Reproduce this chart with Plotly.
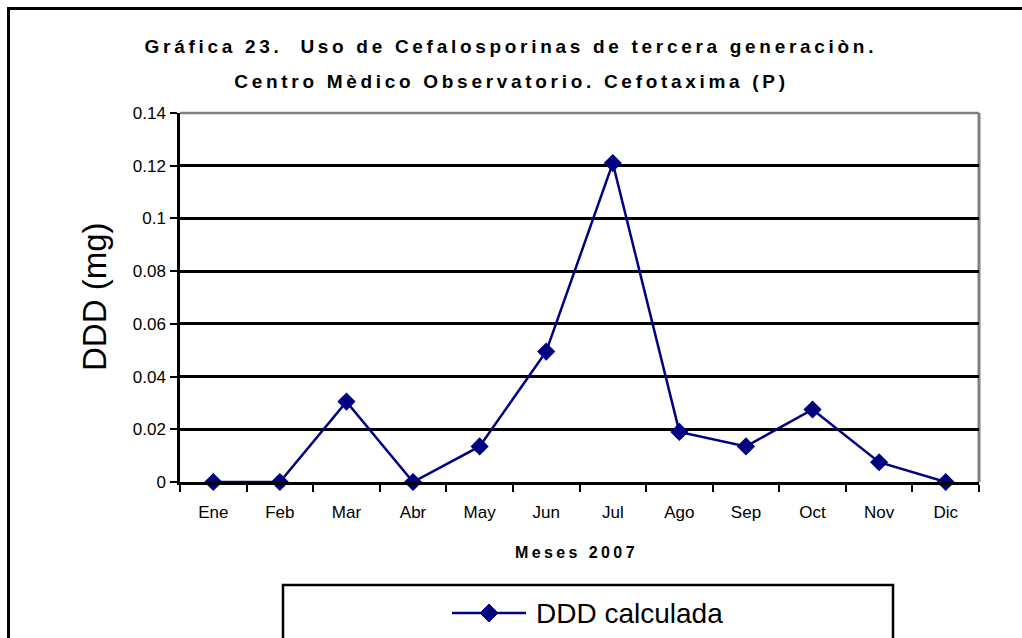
import plotly.graph_objects as go

months = ["Ene", "Feb", "Mar", "Abr", "May", "Jun", "Jul", "Ago", "Sep", "Oct", "Nov", "Dic"]
ddd = [0, 0, 0.0305, 0, 0.0135, 0.0495, 0.121, 0.019, 0.0135, 0.0275, 0.0075, 0]
series_name = "DDD calculada"
title_1 = "Gráfica 23.  Uso de Cefalosporinas de tercera generaciòn."
title_2 = "Centro Mèdico Observatorio. Cefotaxima (P)"
x_title = "Meses 2007"
y_title = "DDD (mg)"

W, H = 1022, 638
L, R, T, B = 180, 43, 113, 156
PW, PH = W - L - R, H - T - B
NAVY = "#000080"
FONT = "Arial, Liberation Sans, sans-serif"


def px(x):
    return (x - L) / PW


def py(y):
    return (H - B - y) / PH


fig = go.Figure()
fig.add_trace(go.Scatter(
    x=months, y=ddd, mode="lines+markers", name=series_name,
    line=dict(color=NAVY, width=2.5),
    marker=dict(symbol="diamond", size=14, color=NAVY),
    showlegend=False, cliponaxis=False,
))

shapes = []
# outer frame (left and top)
shapes.append(dict(type="line", xref="paper", yref="paper", x0=px(8.5), x1=px(8.5), y0=py(8), y1=py(640),
                   line=dict(color="black", width=3)))
shapes.append(dict(type="line", xref="paper", yref="paper", x0=px(7), x1=px(1024), y0=py(8.5), y1=py(8.5),
                   line=dict(color="black", width=3)))
# plot-area border top & right (grey)
shapes.append(dict(type="line", xref="paper", yref="paper", x0=0, x1=1, y0=1, y1=1,
                   line=dict(color="#808080", width=2.5), layer="above"))
shapes.append(dict(type="line", xref="paper", yref="paper", x0=1, x1=1, y0=0, y1=1,
                   line=dict(color="#808080", width=3), layer="below"))
# legend box
shapes.append(dict(type="rect", xref="paper", yref="paper", x0=px(283), x1=px(893), y0=py(645), y1=py(585),
                   line=dict(color="black", width=2.5)))
# legend symbol
ly = 613
shapes.append(dict(type="line", xref="paper", yref="paper", x0=px(452), x1=px(526), y0=py(ly), y1=py(ly),
                   line=dict(color=NAVY, width=2.5)))
cx, d = 489, 9
shapes.append(dict(type="path", xref="paper", yref="paper",
                   path="M {} {} L {} {} L {} {} L {} {} Z".format(px(cx - d), py(ly), px(cx), py(ly - d),
                                                                px(cx + d), py(ly), px(cx), py(ly + d)),
                   fillcolor=NAVY, line=dict(color=NAVY, width=1)))

annotations = [
    dict(text="<b>" + title_1 + "</b>", xref="paper", yref="paper", x=px(511), y=py(47),
         xanchor="center", yanchor="middle", showarrow=False, font=dict(family=FONT, size=19, color="black")),
    dict(text="<b>" + title_2 + "</b>", xref="paper", yref="paper", x=px(511), y=py(81),
         xanchor="center", yanchor="middle", showarrow=False, font=dict(family=FONT, size=19, color="black")),
    dict(text="<b>" + x_title + "</b>", xref="paper", yref="paper", x=px(576), y=py(552),
         xanchor="center", yanchor="middle", showarrow=False, font=dict(family=FONT, size=16, color="black")),
    dict(text=y_title, xref="paper", yref="paper", x=px(94), y=py(297), textangle=-90,
         xanchor="center", yanchor="middle", showarrow=False, font=dict(family=FONT, size=33, color="black")),
    dict(text=series_name, xref="paper", yref="paper", x=px(534), y=py(613),
         xanchor="left", yanchor="middle", showarrow=False, font=dict(family=FONT, size=28, color="black")),
]

fig.update_layout(
    width=W, height=H,
    margin=dict(l=L, r=R, t=T, b=B, pad=0),
    paper_bgcolor="white", plot_bgcolor="white",
    font=dict(family=FONT, color="black"),
    shapes=shapes, annotations=annotations,
    showlegend=False,
)
fig.update_xaxes(
    type="category", range=[-0.5, 11.5], tickson="boundaries",
    ticks="outside", ticklen=7, tickwidth=2, tickcolor="black",
    showline=True, linecolor="black", linewidth=2.5,
    showgrid=False, zeroline=False,
    tickfont=dict(family=FONT, size=17, color="black"), ticklabelstandoff=13,
)
fig.update_yaxes(
    range=[0, 0.14], dtick=0.02, tick0=0,
    ticks="outside", ticklen=7, tickwidth=2, tickcolor="black",
    showline=True, linecolor="black", linewidth=2.5,
    showgrid=True, gridcolor="black", gridwidth=2.5, zeroline=False,
    tickfont=dict(family=FONT, size=17, color="black"), ticklabelstandoff=1,
)

post = """
document.body.style.margin = '0';
var gd = document.getElementById('{plot_id}');
function sp(){
  gd.querySelectorAll('.annotation-text').forEach(function(t){
    var s = t.textContent;
    if (s.indexOf('Gráfica') === 0 || s.indexOf('Centro') === 0) { t.style.letterSpacing = '3.7px'; }
    else if (s.indexOf('Meses') === 0) { t.style.letterSpacing = '3.4px'; }
  });
}
sp();
gd.on('plotly_afterplot', sp);
"""
fig.write_html("out.html", post_script=post, config={"displayModeBar": False})
